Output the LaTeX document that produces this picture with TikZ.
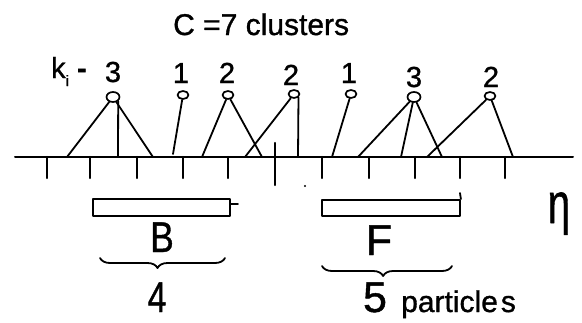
\documentclass[tikz,border=0pt]{standalone}
\usepackage{fontspec}
\setmainfont{Liberation Sans}[FakeBold=1]
\usetikzlibrary{shapes.geometric,decorations.pathreplacing}
\begin{document}
\begin{tikzpicture}[x=1pt,y=-1pt,line cap=round,line join=round,
  axisline/.style={line width=2pt},
  tickline/.style={line width=2.2pt},
  leg/.style={line width=1.8pt},
  clu/.style={ellipse,draw,line width=1.7pt,inner sep=0pt,minimum width=11pt,minimum height=8pt},
  bigclu/.style={clu,minimum width=13pt,minimum height=10pt},
  num/.style={font=\fontsize{29}{29}\selectfont,inner sep=0pt,anchor=base},
  bigtxt/.style={font=\fontsize{43}{43}\selectfont,inner sep=0pt,anchor=base},
  bar/.style={draw,line width=1.8pt,inner sep=0pt},
  brc/.style={decorate,decoration={brace,mirror,amplitude=10pt},line width=1.8pt}]
\useasboundingbox (0,0) rectangle (582,322);
% title
\node[font=\fontsize{30}{30}\selectfont,inner sep=0pt,anchor=base west] (title) at (173,35) {C =7 clusters};
% k label
\node[font=\fontsize{29}{29}\selectfont,inner sep=0pt,anchor=base west] (klab) at (51,78)
  {k\raisebox{-8pt}{\fontsize{15}{15}\selectfont i}\hspace{8pt}\textbf{-}};
% axis
\coordinate (axL) at (15,157);
\coordinate (axR) at (573,157);
\draw[axisline] (axL) -- (axR);
\foreach \x in {47,90,137,183,228,322,369,415,460,505}
  \draw[tickline] (\x,157) -- (\x,178);
\draw[tickline] (275,143) -- (275,185);
\fill (305,186) circle (1.1pt);
% clusters
\node[bigclu] (c1) at (113,97) {};
\node[clu] (c2) at (183,95) {};
\node[clu] (c3) at (228,95) {};
\node[clu] (c4) at (294,94) {};
\node[clu] (c5) at (351,94) {};
\node[bigclu] (c6) at (414,97) {};
\node[clu] (c7) at (490,96) {};
% cluster sizes
\node[num] (n1) at (113,82) {3};
\node[num] (n2) at (181,83) {1};
\node[num] (n3) at (227,83) {2};
\node[num] (n4) at (291,85) {2};
\node[num] (n5) at (349,83) {1};
\node[num] (n6) at (414,87) {3};
\node[num] (n7) at (491,87) {2};
% feet
\coordinate (f1a) at (67,157);
\coordinate (f1b) at (118,157);
\coordinate (f1c) at (153,157);
\coordinate (f2) at (173,154);
\coordinate (f3a) at (202,157);
\coordinate (f3b) at (262,157);
\coordinate (f4a) at (245,157);
\coordinate (f4b) at (298,157);
\coordinate (f5) at (332,157);
\coordinate (f6a) at (358,157);
\coordinate (f6b) at (401,157);
\coordinate (f6c) at (442,157);
\coordinate (f7a) at (427,157);
\coordinate (f7b) at (513,157);
\draw[leg] (c1) -- (f1a);
\draw[leg] (c1.south east) -- (f1b);
\draw[leg] (c1) -- (f1c);
\draw[leg] (c2) -- (f2);
\draw[leg] (c3) -- (f3a);
\draw[leg] (c3) -- (f3b);
\draw[leg] (c4) -- (f4a);
\draw[leg] (c4.south east) -- (f4b);
\draw[leg] (c5) -- (f5);
\draw[leg] (c6) -- (f6a);
\draw[leg] (c6) -- (f6b);
\draw[leg] (c6) -- (f6c);
\draw[leg] (c7) -- (f7a);
\draw[leg] (c7) -- (f7b);
% B and F windows
\node[bar,minimum width=137pt,minimum height=17pt] (Bbox) at (161.5,207.5) {};
\coordinate (Btick) at (238,204);
\draw[leg] (Bbox.east |- Btick) -- (Btick);
\node[bar,minimum width=138pt,minimum height=16pt] (Fbox) at (391,208) {};
\coordinate (Ftop) at (460,193);
\draw[leg] (Fbox.north east) -- (Ftop);
\node[bigtxt] (B) at (162,252) {\scalebox{0.82}[1]{B}};
\node[bigtxt] (F) at (379,255) {F};
% braces
\coordinate (bbL) at (100,258);
\coordinate (bbR) at (225,258);
\draw[brc,decoration={aspect=0.46}] (bbL) -- (bbR);
\coordinate (fbL) at (322,266);
\coordinate (fbR) at (452,266);
\draw[brc,decoration={aspect=0.47}] (fbL) -- (fbR);
\node[bigtxt] (four) at (157,312) {\scalebox{0.78}[1]{4}};
\node[bigtxt] (five) at (375,312) {5};
\node[font=\fontsize{30}{30}\selectfont,inner sep=0pt,anchor=base west] (part) at (401,312) {particle\kern3pt s};
% eta
\node[inner sep=0pt,anchor=base] (eta) at (559,223) {\scalebox{0.7}[1]{\fontsize{57}{57}\selectfont η}};
\end{tikzpicture}
\end{document}
